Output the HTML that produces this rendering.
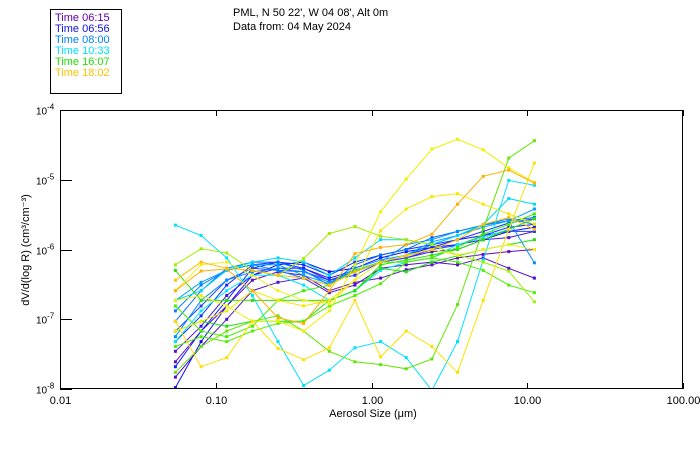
<!DOCTYPE html>
<html><head><meta charset="utf-8"><style>
html,body{margin:0;padding:0;background:#fff;}
svg{display:block;font-family:"Liberation Sans",sans-serif;}
</style></head><body>
<svg id="chart" width="700" height="450" viewBox="0 0 700 450">
<rect x="0" y="0" width="700" height="450" fill="#fff"/>
<g>
<rect x="50.5" y="9.5" width="71" height="84" fill="none" stroke="#000" stroke-width="1"/>
<text x="55" y="21" font-size="11" fill="#6000b0">Time 06:15</text>
<text x="55" y="32" font-size="11" fill="#1010e0">Time 06:56</text>
<text x="55" y="43" font-size="11" fill="#0080ff">Time 08:00</text>
<text x="55" y="54" font-size="11" fill="#00e0ff">Time 10:33</text>
<text x="55" y="65" font-size="11" fill="#20e000">Time 16:07</text>
<text x="55" y="76" font-size="11" fill="#ffc000">Time 18:02</text>
</g>
<text x="233" y="16" font-size="11" fill="#000">PML, N 50 22', W 04 08', Alt 0m</text>
<text x="233" y="30" font-size="11" fill="#000">Data from: 04 May 2024</text>
<g id="series"></g>
<rect x="60.5" y="110.5" width="622" height="278" fill="none" stroke="#000" stroke-width="1"/>
<g id="axes"></g>
<text x="373" y="417" font-size="11" text-anchor="middle">Aerosol Size (μm)</text>
<text transform="translate(29,250) rotate(-90)" font-size="11" text-anchor="middle">dV/d(log R) (cm³/cm⁻³)</text>
</svg>
<script>
const sizeBins = [0.0551,0.0805,0.1176,0.1718,0.251,0.3667,0.5358,0.7828,1.1437,1.671,2.441,3.567,5.211,7.613,11.12];
const xTicks = [0.01,0.1,1,10,100];
const xTickLabels = ["0.01","0.10","1.00","10.00","100.00"];
const yTickExps = [-4,-5,-6,-7,-8];
const sP1=[-7.61,-7.17,-6.81,-6.44,-6.32,-6.37,-6.59,-6.47,-6.41,-6.29,-6.22,-6.12,-6.07,-6.03,-6.0];
const sP2=[-7.83,-7.39,-7.0,-6.59,-6.47,-6.41,-6.62,-6.51,-6.27,-6.22,-6.18,-6.22,-6.12,-6.27,-6.41];
const sP3=[-7.46,-7.10,-6.66,-6.37,-6.27,-6.27,-6.44,-6.32,-6.18,-6.12,-6.03,-6.0,-5.86,-5.83,-5.74];
const sB1=[-7.98,-7.32,-6.81,-6.37,-6.22,-6.18,-6.32,-6.27,-6.12,-6.03,-5.97,-5.93,-5.86,-5.74,-5.68];
const sB2=[-7.68,-7.17,-6.73,-6.27,-6.18,-6.27,-6.41,-6.30,-6.18,-6.08,-5.97,-5.86,-5.80,-5.68,-5.64];
const sB3=[-7.32,-6.95,-6.51,-6.22,-6.18,-6.22,-6.37,-6.18,-6.08,-6.00,-5.93,-5.86,-5.74,-5.62,-5.56];
const sB4=[-7.17,-6.81,-6.44,-6.27,-6.30,-6.32,-6.44,-6.37,-6.18,-6.12,-6.00,-5.94,-5.80,-5.74,-5.74];
const sL1=[-7.03,-6.59,-6.27,-6.18,-6.18,-6.30,-6.51,-6.22,-6.08,-6.00,-5.83,-5.74,-5.65,-5.59,-5.54];
const sL2=[-6.88,-6.51,-6.30,-6.22,-6.30,-6.41,-6.51,-6.30,-6.18,-6.08,-5.93,-5.80,-5.65,-5.56,-5.64];
const sL3=[-7.25,-6.73,-6.44,-6.32,-6.27,-6.32,-6.47,-6.32,-6.18,-5.93,-5.86,-5.74,-5.65,-5.59,-6.19];
const sL4=[-6.73,-6.47,-6.30,-6.22,-6.22,-6.37,-6.49,-6.27,-6.15,-6.08,-5.89,-5.80,-5.68,-5.59,-5.42];
const sC1=[-5.65,-5.80,-6.12,-6.66,-7.32,-7.95,-7.73,-7.41,-7.32,-7.55,-8.02,-7.32,-6.15,-5.01,-5.08];
const sC2=[-6.73,-6.59,-6.30,-6.18,-6.12,-6.18,-6.37,-6.12,-5.86,-5.86,-5.93,-5.80,-5.64,-5.27,-5.35];
const sC3=[-7.32,-6.88,-6.59,-6.37,-6.37,-6.51,-6.73,-6.59,-6.30,-6.18,-6.12,-5.93,-5.83,-5.71,-5.56];
const sG1=[-6.30,-6.73,-6.73,-6.73,-6.73,-6.73,-6.73,-6.59,-6.22,-6.15,-6.08,-6.00,-5.86,-5.71,-5.56];
const sG2=[-6.81,-7.17,-7.25,-7.10,-6.73,-6.59,-6.51,-6.30,-6.18,-6.18,-6.12,-5.97,-5.78,-5.64,-5.49];
const sG3=[-7.17,-7.03,-7.10,-7.03,-7.03,-7.03,-6.73,-6.59,-6.27,-6.32,-6.18,-6.09,-6.00,-5.93,-5.86];
const sG4=[-7.39,-7.25,-7.32,-7.17,-7.06,-7.03,-6.81,-6.66,-6.49,-6.18,-6.12,-6.18,-6.30,-6.51,-6.62];
const sG5=[-7.76,-7.39,-7.17,-7.03,-6.95,-7.17,-7.46,-7.61,-7.65,-7.71,-7.57,-6.79,-5.71,-4.69,-4.44];
const sYG1=[-6.22,-5.99,-6.05,-6.30,-6.37,-6.13,-5.77,-5.67,-5.81,-5.86,-5.93,-6.08,-6.18,-6.31,-6.75];
const sY1=[-6.73,-6.66,-6.81,-7.03,-7.03,-7.17,-6.88,-6.22,-5.46,-4.99,-4.56,-4.42,-4.57,-4.83,-5.04];
const sY2=[-7.17,-7.03,-6.88,-6.59,-6.73,-6.81,-6.73,-6.44,-5.73,-5.42,-5.24,-5.20,-5.35,-5.49,-5.64];
const sY3=[-7.03,-7.68,-7.55,-7.03,-7.42,-7.58,-7.41,-6.73,-7.54,-7.17,-7.39,-7.76,-6.73,-5.71,-4.76];
const sY4=[-6.59,-6.22,-6.18,-6.37,-6.59,-6.73,-6.78,-6.44,-6.18,-6.08,-6.00,-6.08,-6.00,-5.93,-6.00];
const sO1=[-6.59,-6.31,-6.28,-6.59,-6.98,-7.06,-6.59,-6.06,-5.97,-5.93,-5.78,-5.35,-4.95,-4.86,-5.05];
const sO2=[-6.44,-6.18,-6.27,-6.30,-6.37,-6.41,-6.51,-6.32,-6.18,-6.09,-6.00,-5.86,-5.64,-5.54,-5.71];
const allSeries=[sP1,sP2,sP3,sB1,sB2,sB3,sB4,sL1,sL2,sL3,sL4,sC1,sC2,sC3,sG1,sG2,sG3,sG4,sG5,sYG1,sY1,sY2,sY3,sY4,sO1,sO2];
const seriesColors=["#6010c0","#5010d0","#4818d8","#1010f0","#1020ff","#1030ff","#2040ff","#0070ff","#0080ff","#0090ff","#00a0ff","#00e0ff","#00d8f8","#00e8ff","#30e000","#40f000","#20e010","#50f000","#60e800","#a0f000","#f0f000","#f8e800","#ffe000","#f0f020","#ffb000","#ffc000"];

const NS="http://www.w3.org/2000/svg";
const X0=60,X1=683,Y0=110,Y1=389;
function xScale(v){return X0+(Math.log10(v)+2)/4*(X1-X0);}
function yScale(e){return Y0+(-4-e)/4*(Y1-Y0);}

const sg=document.getElementById('series');
const clip=document.createElementNS(NS,'clipPath');clip.setAttribute('id','pc');
const cr=document.createElementNS(NS,'rect');cr.setAttribute('x',X0);cr.setAttribute('y',Y0);cr.setAttribute('width',X1-X0);cr.setAttribute('height',Y1-Y0);
clip.appendChild(cr);document.getElementById('chart').appendChild(clip);
sg.setAttribute('clip-path','url(#pc)');
allSeries.forEach((s,i)=>{
  const c=seriesColors[i];
  const g=document.createElementNS(NS,'g');
  
  
  const pts=s.map((e,j)=>xScale(sizeBins[j]).toFixed(1)+','+yScale(e).toFixed(1)).join(' ');
  const pl=document.createElementNS(NS,'polyline');
  pl.setAttribute('points',pts);pl.setAttribute('fill','none');pl.setAttribute('stroke',c);pl.setAttribute('stroke-width','1');
  
  
  g.appendChild(pl);
  s.forEach((e,j)=>{
    const r=document.createElementNS(NS,'rect');
    r.setAttribute('x',(xScale(sizeBins[j])-1.5).toFixed(1));r.setAttribute('y',(yScale(e)-1.5).toFixed(1));
    r.setAttribute('width','3');r.setAttribute('height','3');r.setAttribute('fill',c);
    
    
    g.appendChild(r);
  });
  sg.appendChild(g);
});

const ax=document.getElementById('axes');
xTicks.forEach((t,i)=>{
  const x=Math.round(xScale(t))+0.5;
  const l=document.createElementNS(NS,'line');
  l.setAttribute('x1',x);l.setAttribute('x2',x);l.setAttribute('y1',Y1);l.setAttribute('y2',Y1-6);l.setAttribute('stroke','#000');
  
  
  ax.appendChild(l);
  const l2=document.createElementNS(NS,'line');
  l2.setAttribute('x1',x);l2.setAttribute('x2',x);l2.setAttribute('y1',Y0);l2.setAttribute('y2',Y0+6);l2.setAttribute('stroke','#000');
  
  
  ax.appendChild(l2);
  const tx=document.createElementNS(NS,'text');
  tx.setAttribute('x',x);tx.setAttribute('y',404);tx.setAttribute('font-size','11');tx.setAttribute('text-anchor','middle');
  tx.textContent=xTickLabels[i];
  
  
  ax.appendChild(tx);
});
yTickExps.forEach(e=>{
  const y=Math.round(yScale(e))+0.5;
  const l=document.createElementNS(NS,'line');
  l.setAttribute('x1',X0);l.setAttribute('x2',X0+12);l.setAttribute('y1',y);l.setAttribute('y2',y);l.setAttribute('stroke','#000');
  
  
  ax.appendChild(l);
  const tx=document.createElementNS(NS,'text');
  tx.setAttribute('x',36);tx.setAttribute('y',y+4);tx.setAttribute('font-size','10');
  tx.innerHTML='10<tspan dy="-5" font-size="8">'+e+'</tspan>';
  
  
  ax.appendChild(tx);
});
</script>
</body></html>
